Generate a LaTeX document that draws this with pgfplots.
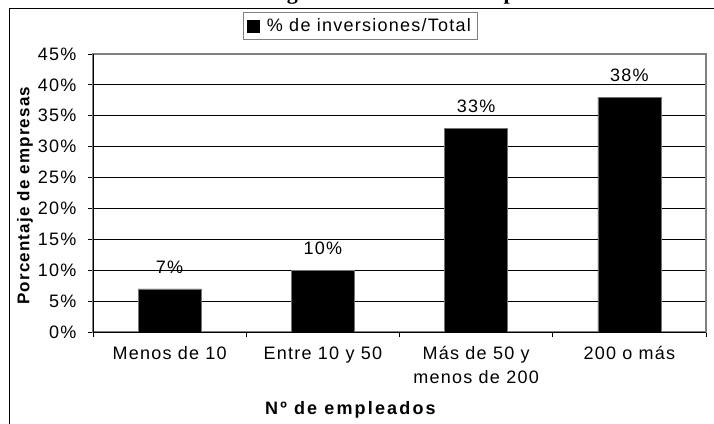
\documentclass[border=0pt]{standalone}
\usepackage{pgfplots}
\pgfplotsset{compat=1.18}
\usepackage{fontspec}
\setmainfont{Liberation Sans}[LetterSpace=7]
\newfontfamily\titlefont{Liberation Serif}

\begin{document}
\begin{tikzpicture}[x=1pt,y=1pt]
% outer chart frame (right and bottom edges fall outside the picture)
\draw[line width=1pt] (9,-20) rectangle (740,414);
% title, only its descenders show at the top edge
\node[anchor=base, font=\titlefont\bfseries\fontsize{22}{26}\selectfont] at (355,423.5)
  {Inversiones según el tamaño de la empresa};
\begin{axis}[
    at={(93pt,91pt)}, anchor=south west,
    scale only axis,
    width=613pt, height=278pt,
    ybar,
    bar width=63pt,
    xmin=-0.5, xmax=3.5,
    ymin=0, ymax=45,
    ytick={0,5,...,45},
    yticklabel={\pgfmathprintnumber{\tick}\%},
    /pgf/number format/assume math mode=true,
    xtick={-0.5,0.5,1.5,2.5,3.5},
    xticklabels={},
    extra x ticks={0,1,2,3},
    extra x tick labels={Menos de 10, Entre 10 y 50, {Más de 50 y\\menos de 200}, 200 o más},
    extra x tick style={major tick length=0pt, grid=none,
        xticklabel style={align=center, anchor=north, yshift=-11pt}},
    xtick pos=bottom, ytick pos=left,
    tick align=outside,
    major tick length=5pt,
    tick style={black, line width=0.8pt},
    ymajorgrids,
    grid style={black, line width=0.8pt},
    axis line style={gray, line width=1.2pt},
    every tick label/.append style={font=\fontsize{18}{24}\selectfont},
    yticklabel style={xshift=-8pt},
    ylabel={\bfseries Porcentaje de empresas},
    ylabel style={at={(axis description cs:-0.111,0.49)}, anchor=center,
        font=\fontsize{17}{19}\selectfont},
    xlabel={\bfseries Nº de empleados},
    xlabel style={at={(axis description cs:0.42,-0.28)}, anchor=center,
        font=\fontsize{18}{20}\selectfont\addfontfeatures{LetterSpace=12}},
    nodes near coords={\pgfmathprintnumber{\pgfplotspointmeta}\%},
    every node near coord/.append style={anchor=south, yshift=12pt,
        font=\fontsize{18}{20}\selectfont},
    legend style={at={(0.4356,1.1007)}, anchor=center, draw=gray, line width=1pt,
        font=\fontsize{18}{20}\selectfont, inner xsep=4pt, inner ysep=4pt},
    legend image code/.code={\fill[black] (0pt,-6pt) rectangle (12pt,6pt);
        \path (17pt,0pt);},
]
\addplot[fill=black, draw=black!55] coordinates {(0,7) (1,10) (2,33) (3,38)};
\addlegendentry{\% de inversiones/Total}
\draw[black, line width=1pt] (rel axis cs:0,1) -- (rel axis cs:0,0) -- (rel axis cs:1,0);
\end{axis}
\pgfresetboundingbox
\useasboundingbox (0,0) rectangle (714,423);
\end{tikzpicture}
\end{document}
